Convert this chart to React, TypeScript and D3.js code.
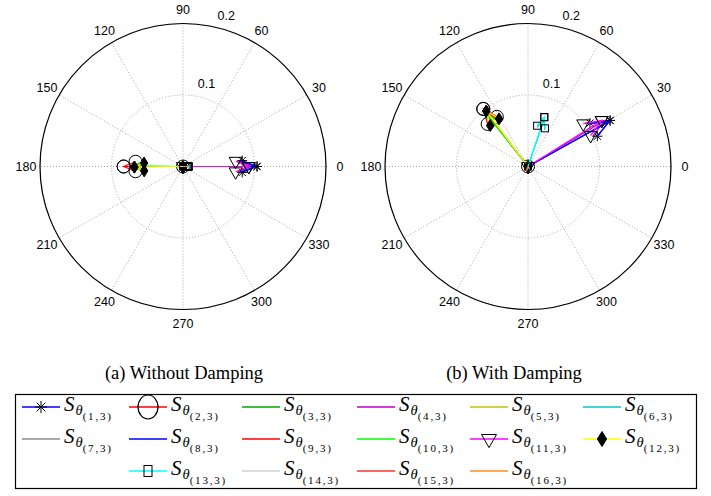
import React from "react";
import * as d3 from "d3";

// S_theta(i,3) phasors (magnitude, angle in degrees)
const seriesLabels = [
  "(1,3)", "(2,3)", "(3,3)", "(4,3)", "(5,3)", "(6,3)", "(7,3)", "(8,3)",
  "(9,3)", "(10,3)", "(11,3)", "(12,3)", "(13,3)", "(14,3)", "(15,3)", "(16,3)",
];
const seriesColors = [
  "#0000ff", "#ff0000", "#00a800", "#c000c0", "#bfbf00", "#00c8c8", "#8c8c8c", "#0000ff",
  "#ff0000", "#00ff00", "#ff00ff", "#ffff00", "#00ffff", "#d0d0d0", "#ff3030", "#ff8c1a",
];
const seriesMarkers = [
  "star", "circle", "none", "none", "none", "none", "none", "none",
  "none", "none", "tri", "diamond", "square", "none", "none", "none",
];

const magNoDamping = [0.1035, 0.083, 0.072, 0.095, 0.07, 0.01, 0.004, 0.1, 0.068, 0.07, 0.092, 0.068, 0.008, 0.003, 0.004, 0.005];
const angNoDamping = [0, 180, 180, 0, 180, 0, 0, 0, 180, 179.3, 0, 180.7, 0, 180, 0, 0];

const magDamping = [0.1316, 0.102, 0.092, 0.125, 0.096, 0.07, 0.004, 0.13, 0.095, 0.093, 0.1215, 0.097, 0.0727, 0.003, 0.004, 0.006];
const angDamping = [29.3, 127.8, 128, 31, 127, 71, 200, 29, 127.5, 128.5, 32, 127, 71.7, 300, 250, 250];

const angleTicks = [0, 30, 60, 90, 120, 150, 180, 210, 240, 270, 300, 330];
const radialTicks = [0.1, 0.2];
const captions = ["(a) Without Damping", "(b) With Damping"];

// MATLAB compass arrow shape
const arrowX = [0, 1, 0.8, 1, 0.8];
const arrowY = [0, 0, 0.08, 0, -0.08];

const R = 143;
const rScale = d3.scaleLinear().domain([0, 0.2]).range([0, R]);
const axisFont = "'Liberation Sans', Arial, sans-serif";
const serifFont = "'Liberation Serif', 'Times New Roman', serif";

const Marker = ({ type, x, y, legend = false }) => {
  if (type === "star") {
    const s = legend ? 6 : 5;
    const d = s * 0.72;
    return (
      <path
        transform={`translate(${x},${y})`}
        d={`M${-s},0L${s},0M0,${-s}L0,${s}M${-d},${-d}L${d},${d}M${-d},${d}L${d},${-d}`}
        stroke="#000"
        strokeWidth={1}
        fill="none"
      />
    );
  }
  if (type === "circle") {
    return legend ? (
      <ellipse cx={x} cy={y} rx={10} ry={12} fill="none" stroke="#000" strokeWidth={1.2} />
    ) : (
      <circle cx={x} cy={y} r={6.5} fill="none" stroke="#000" strokeWidth={1} />
    );
  }
  if (type === "tri") {
    const w = legend ? 7.5 : 6.5;
    return (
      <path
        transform={`translate(${x},${y})`}
        d={`M${-w},${-w * 0.6}L${w},${-w * 0.6}L0,${w * 1.15}Z`}
        fill="none"
        stroke="#000"
        strokeWidth={1}
      />
    );
  }
  if (type === "diamond") {
    const h = legend ? 7.5 : 6;
    return (
      <path
        transform={`translate(${x},${y})`}
        d={`M0,${-h}L${h * 0.62},0L0,${h}L${-h * 0.62},0Z`}
        fill="#000"
        stroke="#000"
        strokeWidth={1}
      />
    );
  }
  if (type === "square") {
    const w = legend ? 4 : 3.5;
    const h = legend ? 5.5 : 3.5;
    return (
      <rect x={x - w} y={y - h} width={2 * w} height={2 * h} fill="none" stroke="#000" strokeWidth={1} />
    );
  }
  return null;
};

const PolarPanel = ({ cx, cy, mags, angs }) => {
  const line = d3.line();
  const grid = d3.range(0, 360, 30);
  return (
    <g transform={`translate(${cx},${cy})`}>
      {/* grid circles */}
      {radialTicks.map((t) => (
        <circle key={t} r={rScale(t)} fill="none" stroke="#a8a8a8" strokeWidth={1} strokeDasharray="1,2" />
      ))}
      {grid.map((a) => {
        const rad = (a * Math.PI) / 180;
        return (
          <line
            key={a}
            x1={0}
            y1={0}
            x2={R * Math.cos(rad)}
            y2={-R * Math.sin(rad)}
            stroke="#a8a8a8"
            strokeWidth={1}
            strokeDasharray="1,2"
          />
        );
      })}
      <circle r={R} fill="none" stroke="#000" strokeWidth={1.2} />
      {angleTicks.map((a) => {
        const rad = (a * Math.PI) / 180;
        return (
          <text
            key={a}
            x={157 * Math.cos(rad)}
            y={-157 * Math.sin(rad)}
            textAnchor="middle"
            dominantBaseline="central"
            fontFamily={axisFont}
            fontSize={12.5}
            fill="#000"
          >
            {a}
          </text>
        );
      })}
      {radialTicks.map((t) => {
        const rad = (74 * Math.PI) / 180;
        const rr = rScale(t) + 14;
        return (
          <text
            key={t}
            x={rr * Math.cos(rad)}
            y={-rr * Math.sin(rad)}
            textAnchor="middle"
            dominantBaseline="central"
            fontFamily={axisFont}
            fontSize={12.5}
            fill="#000"
          >
            {t}
          </text>
        );
      })}
      {mags.map((m, i) => {
        const rad = (angs[i] * Math.PI) / 180;
        const re = m * Math.cos(rad);
        const im = m * Math.sin(rad);
        const pts = arrowX.map((ax, k) => {
          const px = ax * re - arrowY[k] * im;
          const py = ax * im + arrowY[k] * re;
          return [rScale(px), -rScale(py)];
        });
        return (
          <g key={i}>
            <path d={line(pts)} fill="none" stroke={seriesColors[i]} strokeWidth={1.2} />
            {seriesMarkers[i] !== "none" &&
              pts.map((p, k) => <Marker key={k} type={seriesMarkers[i]} x={p[0]} y={p[1]} />)}
          </g>
        );
      })}
    </g>
  );
};

const legendCols = [22, 129, 242, 357, 470, 583];
const legendRows = [407, 439, 471];
const legendSlots = [
  [0, 0], [0, 1], [0, 2], [0, 3], [0, 4], [0, 5],
  [1, 0], [1, 1], [1, 2], [1, 3], [1, 4], [1, 5],
  [2, 1], [2, 2], [2, 3], [2, 4],
];

const Legend = () => (
  <g>
    <rect x={15.5} y={394.5} width={681} height={94} fill="#fff" stroke="#000" strokeWidth={1.2} />
    {seriesLabels.map((lab, i) => {
      const [r, c] = legendSlots[i];
      const x0 = legendCols[c];
      const y = legendRows[r];
      const x1 = x0 + 38;
      return (
        <g key={lab}>
          <line x1={x0} y1={y} x2={x1} y2={y} stroke={seriesColors[i]} strokeWidth={1.5} />
          <Marker type={seriesMarkers[i]} x={(x0 + x1) / 2} y={y} legend />
          <text x={x1 + 4} y={y + 4} fontFamily={serifFont} fill="#000">
            <tspan fontSize={21} fontStyle="italic">S</tspan>
            <tspan fontSize={14.5} fontStyle="italic" dy={4} dx={1}>θ</tspan>
            <tspan fontSize={11} dy={5} letterSpacing={1.8}>{lab}</tspan>
          </text>
        </g>
      );
    })}
  </g>
);

export default function App() {
  return (
    <svg
      width={711}
      height={496}
      style={{ position: "absolute", left: 0, top: 0, background: "#fff" }}
    >
      <rect width={711} height={496} fill="#fff" />
      <PolarPanel cx={183} cy={166.5} mags={magNoDamping} angs={angNoDamping} />
      <PolarPanel cx={528} cy={166.5} mags={magDamping} angs={angDamping} />
      <text x={184} y={379} textAnchor="middle" fontFamily={serifFont} fontSize={18.5} fill="#000">
        {captions[0]}
      </text>
      <text x={514} y={379} textAnchor="middle" fontFamily={serifFont} fontSize={18.5} fill="#000">
        {captions[1]}
      </text>
      <Legend />
    </svg>
  );
}
